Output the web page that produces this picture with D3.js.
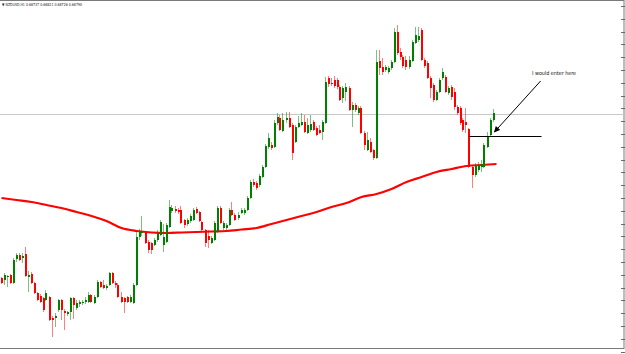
<!DOCTYPE html>
<html><head><meta charset="utf-8">
<script src="https://cdn.jsdelivr.net/npm/d3@7"></script>
<style>html,body{margin:0;padding:0;background:#fff;overflow:hidden}</style>
</head><body><svg id="c" width="625" height="354"></svg>
<script>
const symbolTitle = "▼ NZDUSD,H1  0.68737 0.68821 0.68726 0.68790";
const noteText = "I would enter here";
const open = [0.6714,0.6712,0.6715,0.6717,0.6709,0.6733,0.6737,0.6734,0.6738,0.6715,0.6718,0.6709,0.6699,0.6696,0.6694,0.6692,0.6695,0.6674,0.6674,0.6682,0.6692,0.6681,0.6678,0.6680,0.6694,0.6684,0.6688,0.6689,0.6690,0.6690,0.6697,0.6689,0.6695,0.6710,0.6707,0.6704,0.6707,0.6719,0.6709,0.6707,0.6695,0.6694,0.6695,0.6690,0.6689,0.6707,0.6755,0.6759,0.6759,0.6750,0.6749,0.6747,0.6752,0.6757,0.6747,0.6750,0.6765,0.6781,0.6783,0.6782,0.6782,0.6772,0.6768,0.6771,0.6772,0.6783,0.6780,0.6770,0.6762,0.6756,0.6749,0.6752,0.6760,0.6784,0.6764,0.6764,0.6767,0.6782,0.6777,0.6774,0.6779,0.6779,0.6782,0.6794,0.6810,0.6809,0.6807,0.6815,0.6825,0.6845,0.6847,0.6845,0.6869,0.6874,0.6861,0.6872,0.6874,0.6867,0.6850,0.6865,0.6867,0.6870,0.6859,0.6862,0.6870,0.6864,0.6862,0.6860,0.6869,0.6914,0.6909,0.6912,0.6912,0.6905,0.6894,0.6900,0.6904,0.6882,0.6887,0.6879,0.6884,0.6859,0.6842,0.6850,0.6842,0.6834,0.6931,0.6925,0.6922,0.6920,0.6924,0.6930,0.6960,0.6940,0.6935,0.6932,0.6925,0.6931,0.6949,0.6952,0.6962,0.6932,0.6929,0.6914,0.6907,0.6892,0.6900,0.6914,0.6915,0.6899,0.6905,0.6900,0.6885,0.6884,0.6872,0.6870,0.6863,0.6825,0.6817,0.6822,0.6825,0.6825,0.6845,0.6857,0.6872];
const high = [0.6715,0.6719,0.6717,0.6718,0.6734,0.6739,0.6739,0.6739,0.6745,0.6721,0.6720,0.6710,0.6700,0.6698,0.6695,0.6702,0.6696,0.6676,0.6679,0.6693,0.6693,0.6683,0.6681,0.6695,0.6695,0.6692,0.6692,0.6692,0.6695,0.6700,0.6698,0.6697,0.6712,0.6711,0.6712,0.6708,0.6720,0.6720,0.6711,0.6709,0.6700,0.6695,0.6696,0.6697,0.6709,0.6760,0.6763,0.6776,0.6761,0.6752,0.6750,0.6754,0.6762,0.6772,0.6768,0.6769,0.6792,0.6787,0.6786,0.6784,0.6786,0.6773,0.6774,0.6778,0.6784,0.6785,0.6781,0.6771,0.6763,0.6762,0.6756,0.6771,0.6786,0.6786,0.6771,0.6769,0.6784,0.6790,0.6779,0.6780,0.6784,0.6784,0.6796,0.6812,0.6813,0.6811,0.6818,0.6827,0.6848,0.6859,0.6850,0.6872,0.6879,0.6877,0.6879,0.6880,0.6880,0.6869,0.6867,0.6876,0.6879,0.6877,0.6874,0.6877,0.6872,0.6866,0.6867,0.6872,0.6915,0.6916,0.6914,0.6916,0.6914,0.6907,0.6906,0.6909,0.6906,0.6890,0.6889,0.6886,0.6886,0.6861,0.6860,0.6854,0.6843,0.6942,0.6942,0.6934,0.6927,0.6926,0.6932,0.6964,0.6967,0.6944,0.6937,0.6936,0.6936,0.6952,0.6965,0.6965,0.6964,0.6934,0.6931,0.6916,0.6909,0.6902,0.6914,0.6924,0.6917,0.6906,0.6907,0.6904,0.6887,0.6886,0.6874,0.6884,0.6864,0.6827,0.6829,0.6830,0.6832,0.6849,0.6860,0.6874,0.6883];
const low = [0.6708,0.6707,0.6705,0.6708,0.6708,0.6730,0.6731,0.6729,0.6715,0.6700,0.6708,0.6698,0.6691,0.6689,0.6680,0.6691,0.6671,0.6655,0.6665,0.6680,0.6672,0.6662,0.6676,0.6672,0.6673,0.6682,0.6685,0.6687,0.6688,0.6689,0.6689,0.6688,0.6694,0.6704,0.6703,0.6702,0.6706,0.6708,0.6704,0.6694,0.6689,0.6679,0.6689,0.6689,0.6688,0.6706,0.6752,0.6756,0.6748,0.6739,0.6738,0.6746,0.6750,0.6756,0.6740,0.6749,0.6764,0.6779,0.6779,0.6778,0.6768,0.6764,0.6766,0.6769,0.6771,0.6778,0.6770,0.6761,0.6745,0.6744,0.6748,0.6751,0.6759,0.6768,0.6762,0.6760,0.6766,0.6776,0.6771,0.6772,0.6778,0.6777,0.6781,0.6793,0.6805,0.6802,0.6805,0.6814,0.6824,0.6843,0.6842,0.6844,0.6867,0.6861,0.6860,0.6869,0.6864,0.6832,0.6849,0.6864,0.6866,0.6859,0.6858,0.6860,0.6861,0.6856,0.6858,0.6852,0.6868,0.6905,0.6906,0.6904,0.6903,0.6891,0.6889,0.6891,0.6881,0.6865,0.6880,0.6877,0.6858,0.6842,0.6841,0.6839,0.6832,0.6833,0.6917,0.6917,0.6920,0.6918,0.6922,0.6929,0.6937,0.6932,0.6924,0.6922,0.6923,0.6930,0.6948,0.6950,0.6931,0.6924,0.6913,0.6894,0.6890,0.6891,0.6899,0.6912,0.6899,0.6897,0.6892,0.6882,0.6877,0.6867,0.6860,0.6859,0.6824,0.6804,0.6815,0.6820,0.6820,0.6824,0.6844,0.6856,0.6870];
const close = [0.6709,0.6717,0.6716,0.6709,0.6732,0.6737,0.6732,0.6736,0.6716,0.6717,0.6709,0.6699,0.6692,0.6690,0.6682,0.6699,0.6672,0.6672,0.6676,0.6692,0.6682,0.6679,0.6680,0.6694,0.6687,0.6689,0.6690,0.6690,0.6692,0.6697,0.6690,0.6695,0.6710,0.6705,0.6704,0.6706,0.6719,0.6709,0.6707,0.6695,0.6690,0.6690,0.6690,0.6695,0.6707,0.6755,0.6760,0.6761,0.6749,0.6742,0.6742,0.6752,0.6759,0.6770,0.6755,0.6767,0.6785,0.6784,0.6781,0.6780,0.6769,0.6767,0.6772,0.6776,0.6782,0.6779,0.6771,0.6762,0.6749,0.6752,0.6754,0.6769,0.6784,0.6769,0.6769,0.6767,0.6782,0.6777,0.6772,0.6777,0.6782,0.6782,0.6794,0.6810,0.6807,0.6804,0.6816,0.6825,0.6846,0.6854,0.6844,0.6869,0.6875,0.6862,0.6872,0.6874,0.6865,0.6839,0.6865,0.6869,0.6870,0.6860,0.6867,0.6868,0.6862,0.6857,0.6859,0.6870,0.6910,0.6908,0.6908,0.6906,0.6905,0.6892,0.6904,0.6905,0.6882,0.6887,0.6882,0.6884,0.6859,0.6847,0.6852,0.6840,0.6834,0.6930,0.6924,0.6920,0.6925,0.6924,0.6930,0.6960,0.6939,0.6935,0.6926,0.6925,0.6932,0.6950,0.6957,0.6956,0.6932,0.6926,0.6914,0.6904,0.6892,0.6900,0.6912,0.6920,0.6900,0.6904,0.6895,0.6885,0.6879,0.6869,0.6862,0.6867,0.6825,0.6817,0.6827,0.6826,0.6828,0.6847,0.6855,0.6872,0.6879];
const maIndex = [0,5,10,15,20,25,30,35,40,45,50,55,60,65,70,75,80,85,90,95,100,105,110,115,120,125,130,135,140,145,150,155,160,165];
const maValue = [0.6794,0.6792,0.6790,0.6787,0.6784,0.6780,0.6776,0.6771,0.6764,0.6761,0.67595,0.6759,0.67595,0.6760,0.67605,0.6761,0.67625,0.6764,0.6768,0.6772,0.6776,0.6780,0.6785,0.6789,0.6795,0.6798,0.6803,0.6810,0.6815,0.6820,0.6823,0.6826,0.6827,0.6828];
const bidPrice = 0.6878;
const entryPrice = 0.6856;
const entryIndex = [156, 180];
const arrowFrom = [179.7, 0.6911];
const arrowTo = [164.3, 0.6860];

const svg = d3.select("#c");
const N = open.length;
const x = d3.scaleLinear().domain([0, N - 1]).range([1.5, 493.5]);
const y = d3.scaleLinear().domain([0.6992, 0.6638]).range([0, 354]);
const GREEN = "#008000", RED = "#ff0000";

// frame
svg.append("rect").attr("x", -1).attr("y", 0.5).attr("width", 625).attr("height", 348)
  .attr("fill", "none").attr("stroke", "#7a7a7a").attr("stroke-width", 1);

// right scale ticks
const tickVals = d3.range(0.6986, 0.6640, -0.00128);
svg.append("g").selectAll("line").data(tickVals).join("line")
  .attr("x1", 621).attr("x2", 625)
  .attr("y1", d => Math.round(y(d)) + 0.5).attr("y2", d => Math.round(y(d)) + 0.5)
  .attr("stroke", "#6a6a6a").attr("stroke-width", 1);

// bid line
svg.append("line").attr("x1", 0).attr("x2", 624)
  .attr("y1", Math.round(y(bidPrice)) + 0.5).attr("y2", Math.round(y(bidPrice)) + 0.5)
  .attr("stroke", "#c8c8c8").attr("stroke-width", 1);

// moving average
const ma = d3.line().x((d, i) => x(maIndex[i])).y(d => y(d)).curve(d3.curveMonotoneX);
svg.append("path").attr("d", ma(maValue)).attr("fill", "none")
  .attr("stroke", RED).attr("stroke-width", 2.2);

// candles
const idx = d3.range(N);
const g = svg.append("g");
g.selectAll("line.w").data(idx).join("line").attr("class", "w")
  .attr("x1", i => Math.round(x(i)) - 0.5).attr("x2", i => Math.round(x(i)) - 0.5)
  .attr("y1", i => y(high[i])).attr("y2", i => y(low[i]))
  .attr("stroke", i => close[i] >= open[i] ? GREEN : RED)
  .attr("stroke-opacity", 0.5).attr("stroke-width", 1);
g.selectAll("rect.b").data(idx).join("rect").attr("class", "b")
  .attr("x", i => Math.round(x(i)) - 1).attr("width", 2)
  .attr("y", i => y(Math.max(open[i], close[i])))
  .attr("height", i => Math.max(1, Math.abs(y(open[i]) - y(close[i]))))
  .attr("fill", i => close[i] >= open[i] ? GREEN : RED);

// entry line
svg.append("line")
  .attr("x1", x(entryIndex[0])).attr("x2", x(entryIndex[1]))
  .attr("y1", Math.round(y(entryPrice)) + 0.5).attr("y2", Math.round(y(entryPrice)) + 0.5)
  .attr("stroke", "#000").attr("stroke-width", 1.2);

// arrow
const defs = svg.append("defs");
defs.append("marker").attr("id", "ah").attr("viewBox", "0 0 10 10")
  .attr("refX", 9).attr("refY", 5).attr("markerWidth", 7).attr("markerHeight", 6)
  .attr("markerUnits", "userSpaceOnUse").attr("orient", "auto")
  .append("path").attr("d", "M0,0 L10,5 L0,10 Z").attr("fill", "#000");
svg.append("line")
  .attr("x1", x(arrowFrom[0])).attr("y1", y(arrowFrom[1]))
  .attr("x2", x(arrowTo[0])).attr("y2", y(arrowTo[1]))
  .attr("stroke", "#000").attr("stroke-width", 1).attr("marker-end", "url(#ah)");

// texts
svg.append("text").attr("x", 532).attr("y", 74.5).text(noteText)
  .attr("font-family", "DejaVu Sans, sans-serif").attr("font-size", 5.5)
  .attr("textLength", 44).attr("lengthAdjust", "spacingAndGlyphs")
  .attr("fill", "#111");
svg.append("text").attr("x", 2).attr("y", 5.5).text(symbolTitle)
  .attr("font-family", "DejaVu Sans, sans-serif").attr("font-size", 4)
  .attr("textLength", 80).attr("lengthAdjust", "spacingAndGlyphs").attr("fill", "#222");
</script></body></html>
